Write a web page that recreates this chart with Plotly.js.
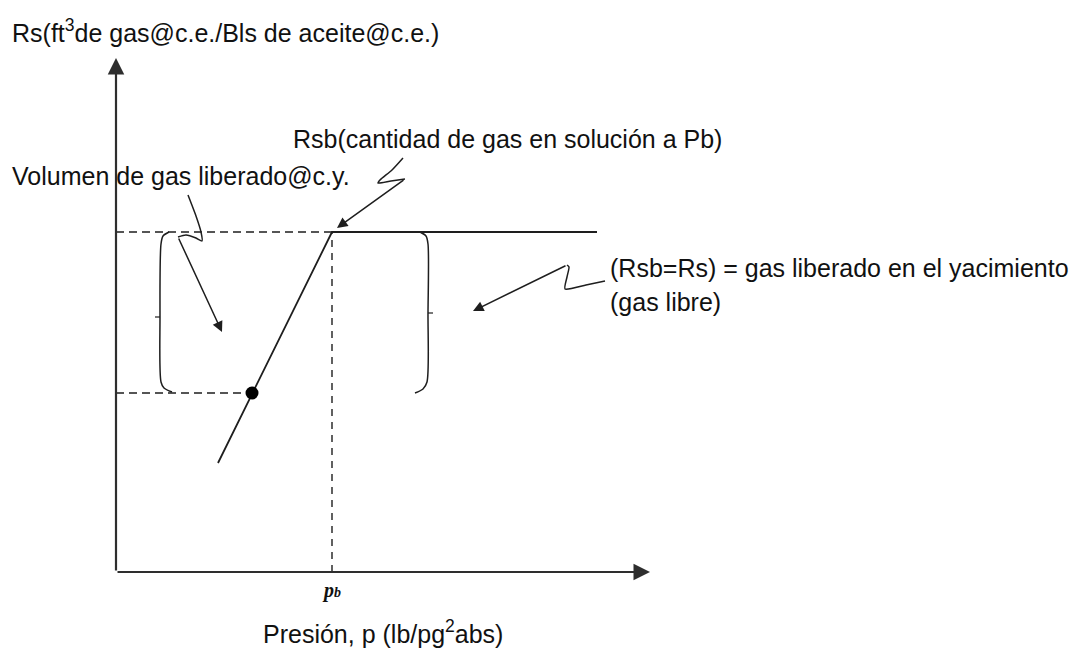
<!DOCTYPE html>
<html>
<head>
<meta charset="utf-8">
<script src="https://cdn.plot.ly/plotly-3.0.1.min.js"></script>
<style>
  html, body { margin: 0; padding: 0; background: #fff; }
  #chart { width: 1074px; height: 649px; }
</style>
</head>
<body>
<div id="chart"></div>
<script>
// schematic units: origin at the axes corner, x = presión, y = Rs
const pb = 216;
const rsb = 340;

const curveP = [102, pb, 481];
const curveRs = [109, rsb, rsb];

const pointP = [136];
const pointRs = [179];

const axisEndP = 534;
const axisEndRs = 514;

// brackets (left / right of Pb)
const leftBracketP = [53, 47, 45, 44, 45, 48, 56];
const leftBracketRs = [340, 336, 328, 255, 190, 184, 180];
const leftTickP = [39, 44];
const leftTickRs = [255, 255];

const rightBracketP = [304, 310, 312, 312, 311, 307, 299];
const rightBracketRs = [340, 336, 328, 259, 190, 183, 179];
const rightTickP = [312, 317];
const rightTickRs = [259, 259];

// squiggly leader lines, last point is where the arrow leg starts
const rsbLeaderP = [287, 276, 264, 262, 275, 289];
const rsbLeaderRs = [414, 402, 392, 389, 391, 393];
const rsbTip = [221, 344];

const volLeaderP = [72, 80, 85, 86, 80, 70, 62];
const volLeaderRs = [377, 356, 340, 331, 334, 337, 335];
const volTip = [106, 240];

const libreLeaderP = [489, 470, 449, 451, 453, 451];
const libreLeaderRs = [291, 287, 283, 295, 305, 307];
const libreTip = [357, 261];

const ink = '#1e1e1e';
const axisInk = '#2e2e2e';
const font = 'Liberation Sans, Arial, sans-serif';

function line(x, y, opts) {
    return Object.assign({
        x: x, y: y, mode: 'lines', type: 'scatter', hoverinfo: 'skip',
        line: {color: ink, width: 1.6}
    }, opts || {});
}

const data = [
    line([0, pb], [rsb, rsb], {line: {color: ink, width: 1.6, dash: '8px,5px'}}),
    line([0, pointP[0]], [pointRs[0], pointRs[0]], {line: {color: ink, width: 1.6, dash: '8px,5px'}}),
    line([pb, pb], [0, rsb], {line: {color: ink, width: 1.4, dash: '7px,6px'}}),
    line(curveP, curveRs, {line: {color: ink, width: 1.8}}),
    line(leftBracketP, leftBracketRs, {line: {color: ink, width: 1.5, shape: 'spline', smoothing: 0.8}}),
    line(leftTickP, leftTickRs, {line: {color: ink, width: 1.2}}),
    line(rightBracketP, rightBracketRs, {line: {color: ink, width: 1.5, shape: 'spline', smoothing: 0.8}}),
    line(rightTickP, rightTickRs, {line: {color: ink, width: 1.2}}),
    line(rsbLeaderP, rsbLeaderRs, {line: {color: ink, width: 1.5, shape: 'spline', smoothing: 0.6}}),
    line(volLeaderP, volLeaderRs, {line: {color: ink, width: 1.5, shape: 'spline', smoothing: 0.6}}),
    line(libreLeaderP, libreLeaderRs, {line: {color: ink, width: 1.5, shape: 'spline', smoothing: 0.6}}),
    {
        x: pointP, y: pointRs, mode: 'markers', type: 'scatter', hoverinfo: 'skip',
        marker: {color: '#000', size: 13}
    }
];

function arrow(tip, from, w, size, color) {
    return {
        x: tip[0], y: tip[1], ax: from[0], ay: from[1],
        xref: 'x', yref: 'y', axref: 'x', ayref: 'y',
        text: '', showarrow: true, arrowhead: 2,
        arrowsize: size, arrowwidth: w, arrowcolor: color || ink
    };
}

function label(text, x, y, size, extra) {
    return Object.assign({
        x: x, y: y, xref: 'x', yref: 'y', text: text, showarrow: false,
        xanchor: 'left', yanchor: 'middle',
        font: {family: font, size: size, color: '#111'}
    }, extra || {});
}

const annotations = [
    arrow([0, axisEndRs], [0, 0], 2.2, 1.5, axisInk),
    arrow([axisEndP, 0], [0, 0], 2.2, 1.5, axisInk),
    arrow(rsbTip, [rsbLeaderP[5], rsbLeaderRs[5]], 1.5, 1.4),
    arrow(volTip, [volLeaderP[6], volLeaderRs[6]], 1.5, 1.4),
    arrow(libreTip, [libreLeaderP[5], libreLeaderRs[5]], 1.5, 1.4),

    label('Rs(ft<sup>3</sup>de gas@c.e./Bls de aceite@c.e.)', -106, 541, 25),
    label('Rsb(cantidad de gas en solución a Pb)', 175, 433, 25),
    label('Volumen de gas liberado@c.y.', -106, 396, 25),
    label('(Rsb=Rs) = gas liberado en el yacimiento', 492, 304, 25),
    label('(gas libre)', 492, 270, 25),
    label('Presión, p (lb/pg<sup>2</sup>abs)', 267, -60, 25, {xanchor: 'center'}),
    label('<b><i>p</i></b><span style="font-size:14px"><b><i>b</i></b></span>', pb - 1, -18, 20,
        {xanchor: 'center', font: {family: 'Liberation Serif, Times New Roman, serif', size: 20, color: '#111'}})
];

const layout = {
    width: 1074,
    height: 649,
    margin: {l: 0, r: 0, t: 0, b: 0},
    paper_bgcolor: '#fff',
    plot_bgcolor: '#fff',
    showlegend: false,
    xaxis: {range: [-116, 958], visible: false, fixedrange: true},
    yaxis: {range: [-77, 572], visible: false, fixedrange: true},
    annotations: annotations
};

Plotly.newPlot('chart', data, layout, {displayModeBar: false, staticPlot: true});
</script>
</body>
</html>
